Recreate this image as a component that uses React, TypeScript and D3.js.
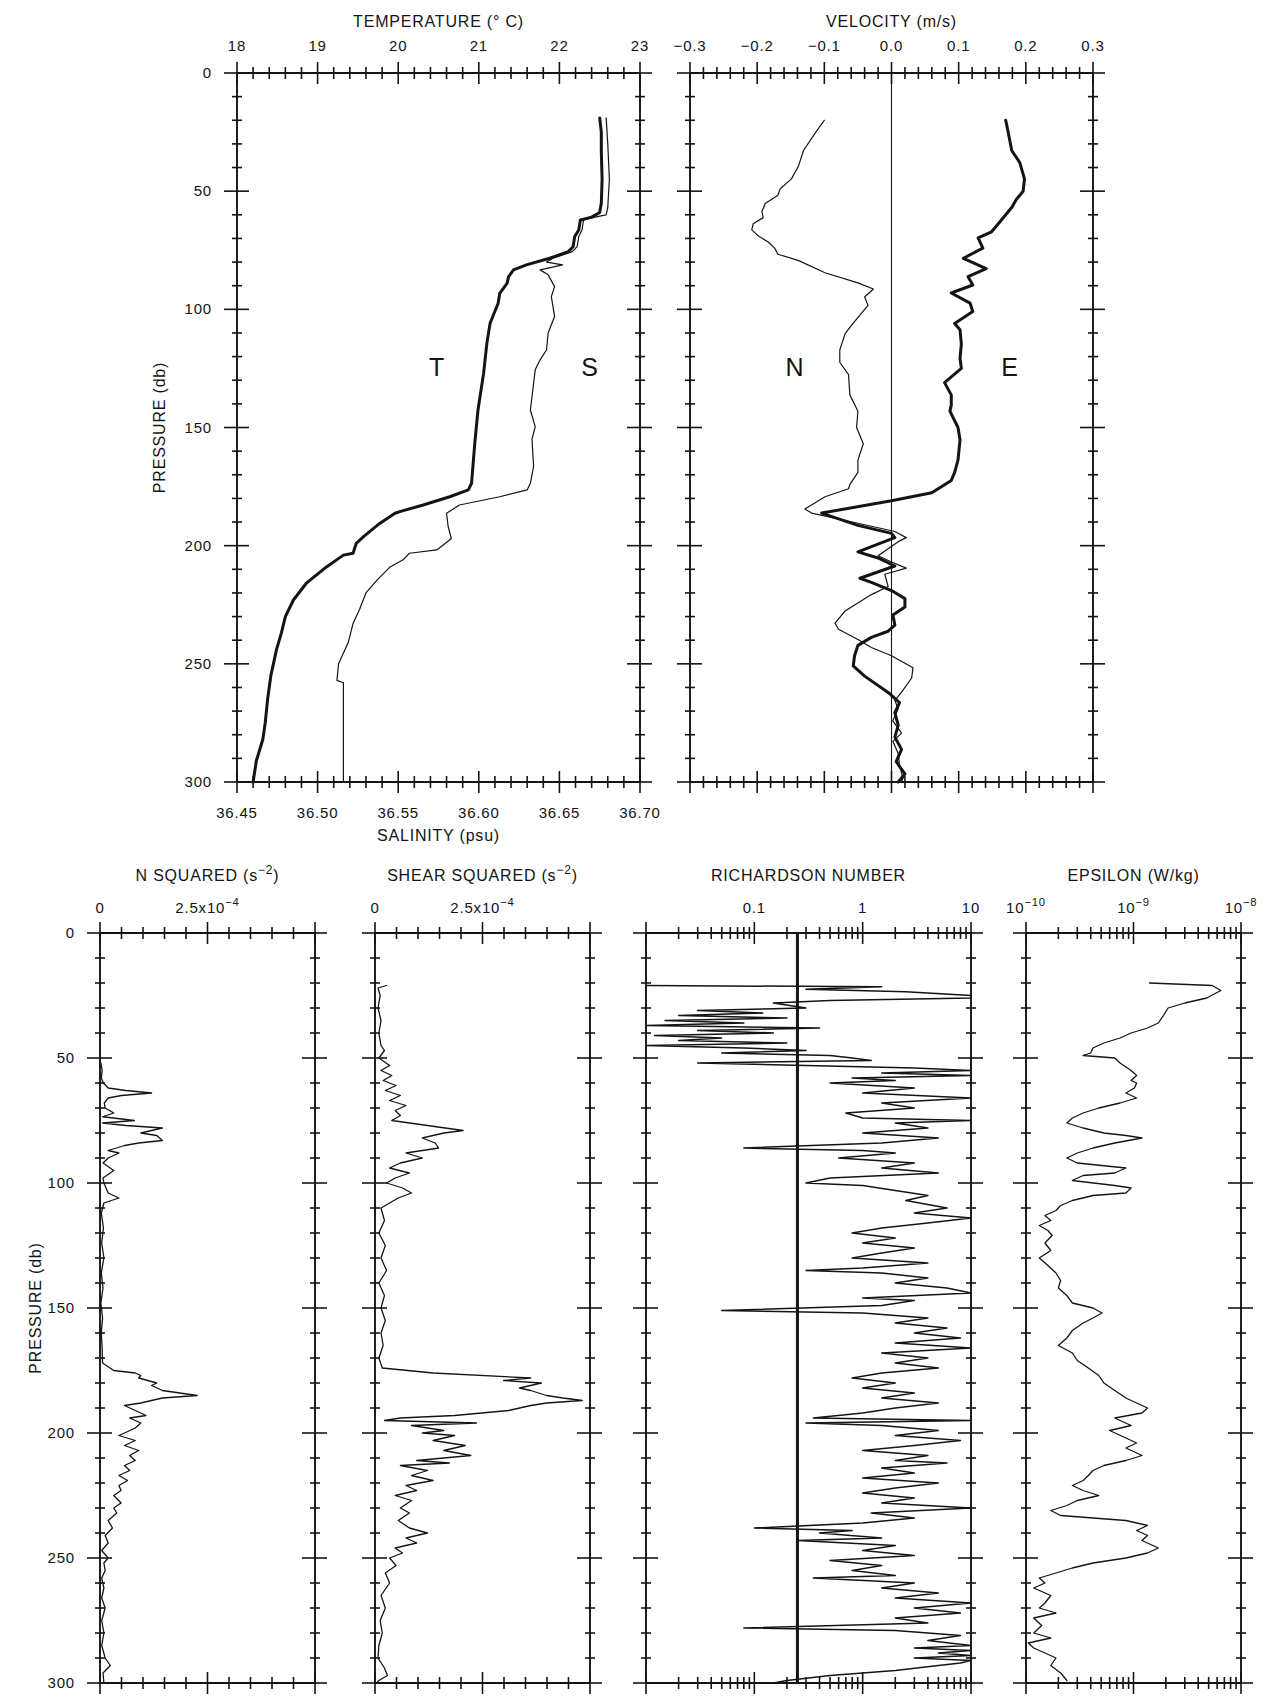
import { useEffect, useRef } from 'react';
import * as d3 from 'd3';

const W = 1273;
const H = 1697;

// [pressure (db), value] pairs
const temperature: [number, number][] = [
  [19, 22.5], [25, 22.52], [33, 22.52], [45, 22.53], [55, 22.52], [59, 22.5], [61, 22.4], [62.2, 22.26],
  [66.4, 22.24], [69.2, 22.19], [73.5, 22.17], [75.6, 22.11], [78.4, 21.88], [81.2, 21.59], [83.3, 21.43],
  [86.2, 21.37], [89, 21.35], [93.2, 21.26], [97.4, 21.24], [105.9, 21.14], [114.4, 21.1], [127, 21.06],
  [142.6, 20.99], [156.7, 20.95], [173.6, 20.91], [176.4, 20.87], [179.3, 20.64], [182.8, 20.31],
  [185.6, 20.02], [186.3, 19.96], [190.6, 19.77], [196.2, 19.57], [199, 19.48], [203.2, 19.44], [204, 19.32],
  [209, 19.11], [214.5, 18.91], [215.9, 18.86], [223, 18.7], [230, 18.6], [237, 18.55], [244, 18.49],
  [255, 18.42], [265, 18.38], [275, 18.35], [282, 18.32], [291, 18.24], [300, 18.2],
];

const salinity: [number, number][] = [
  [19, 36.679], [30, 36.68], [45, 36.681], [57, 36.68], [60, 36.679], [61, 36.672], [62.2, 36.665],
  [66.4, 36.664], [69.2, 36.662], [73.5, 36.661], [75.6, 36.658], [78.4, 36.646], [80, 36.642],
  [81.2, 36.652], [83.3, 36.638], [85.4, 36.643], [90.4, 36.647], [94.6, 36.645], [103, 36.647],
  [110, 36.643], [117.2, 36.642], [121.4, 36.638], [125.6, 36.635], [131.3, 36.634], [142.6, 36.632],
  [149.6, 36.635], [155, 36.633], [166.5, 36.634], [173.6, 36.632], [176.4, 36.63], [179.3, 36.613],
  [182.8, 36.588], [186.3, 36.58], [192, 36.581], [197, 36.583], [201.8, 36.574], [203.2, 36.557],
  [206, 36.553], [209, 36.545], [211.7, 36.541], [214.5, 36.537], [220, 36.53], [227, 36.526],
  [232.9, 36.522], [241, 36.519], [250, 36.513], [257, 36.512], [258, 36.516], [270, 36.516],
  [285, 36.516], [300, 36.516],
];

const northVel: [number, number][] = [
  [20, -0.1], [26, -0.115], [32.8, -0.131], [39.7, -0.139], [44.8, -0.149], [49.1, -0.166], [51.7, -0.169],
  [55.2, -0.188], [58.6, -0.193], [61.2, -0.191], [63.8, -0.206], [66.4, -0.208], [69, -0.198],
  [71.6, -0.183], [74.1, -0.174], [76.7, -0.169], [79.3, -0.139], [84.5, -0.099], [88.8, -0.05],
  [91.4, -0.027], [94.8, -0.04], [98.3, -0.035], [106.9, -0.06], [110.3, -0.069], [117.2, -0.077],
  [122.4, -0.077], [127.6, -0.064], [136.2, -0.062], [143.1, -0.05], [150, -0.052], [156.9, -0.042],
  [163.8, -0.05], [169, -0.05], [174.1, -0.062], [175.9, -0.064], [179.3, -0.099], [184.5, -0.129],
  [186.2, -0.119], [190.5, -0.05], [194, 0.005], [196.6, 0.022], [198.3, 0.01], [204.3, -0.02],
  [206.9, 0], [209.5, 0.022], [212.1, -0.01], [217.3, -0.005], [220.7, -0.03], [227.6, -0.069],
  [232.8, -0.084], [235.4, -0.079], [239.7, -0.05], [243.1, -0.03], [246.6, 0], [251.7, 0.032],
  [256, 0.03], [262, 0.015], [265.5, 0.005], [269, 0.01], [274.1, 0.002], [279.3, 0.015], [282.8, 0.002],
  [287.9, 0.01], [293.1, 0.012], [298.3, 0.017], [300, 0.015],
];

const eastVel: [number, number][] = [
  [20, 0.17], [24, 0.173], [32.8, 0.179], [37.9, 0.191], [44.8, 0.198], [50, 0.196], [53.4, 0.186],
  [56.9, 0.179], [58.6, 0.174], [63.8, 0.159], [67.2, 0.149], [69.8, 0.129], [74.1, 0.136], [78.4, 0.107],
  [82.8, 0.141], [86.2, 0.114], [89.7, 0.121], [93.1, 0.089], [97.4, 0.117], [100.9, 0.121], [106, 0.094],
  [108.6, 0.102], [114.7, 0.104], [120.7, 0.102], [125, 0.104], [131, 0.079], [136.2, 0.089],
  [140.5, 0.089], [143.1, 0.087], [150, 0.099], [155.2, 0.102], [163.8, 0.099], [169, 0.094],
  [172.4, 0.089], [177.6, 0.06], [181, 0], [186.2, -0.104], [191.4, -0.05], [194.8, 0], [196.6, 0.005],
  [202.6, -0.05], [205.2, -0.02], [208.6, 0.005], [213.8, -0.047], [215.5, -0.03], [219, 0], [222.4, 0.02],
  [225.9, 0.02], [229.3, 0.002], [233.6, 0.005], [236.2, -0.005], [238.8, -0.03], [242.2, -0.05],
  [246.6, -0.055], [250.9, -0.057], [255.2, -0.04], [262.1, -0.005], [266.4, 0.012], [270.7, 0.005],
  [275.9, 0.01], [281, 0.005], [286.2, 0.015], [291.4, 0.007], [296.6, 0.02], [300, 0.01],
];

const nSquared: [number, number][] = [
  [52, 0.02e-4], [55, 0.05e-4], [58, 0.03e-4], [60, 0.08e-4], [62, 0.19e-4], [63, 0.6e-4], [64, 1.2e-4],
  [65, 0.5e-4], [66, 0.19e-4], [68, 0.1e-4], [70, 0.12e-4], [72, 0.32e-4], [73.5, 0.06e-4], [75, 0.8e-4],
  [76, 0.06e-4], [77, 0.6e-4], [78, 1.45e-4], [79, 1.2e-4], [80, 0.95e-4], [81, 1.32e-4], [83, 1.45e-4],
  [84, 0.9e-4], [85, 0.57e-4], [87, 0.19e-4], [88, 0.44e-4], [90, 0.19e-4], [92, 0.07e-4], [95, 0.32e-4],
  [98, 0.07e-4], [100, 0.09e-4], [104, 0.19e-4], [106, 0.44e-4], [108, 0.09e-4], [112, 0.03e-4],
  [118, 0.08e-4], [124, 0.04e-4], [130, 0.09e-4], [136, 0.03e-4], [142, 0.07e-4], [148, 0.02e-4],
  [154, 0.06e-4], [160, 0.03e-4], [166, 0.05e-4], [172, 0.06e-4], [175, 0.32e-4], [176, 0.82e-4],
  [177, 0.95e-4], [178, 0.9e-4], [180, 1.32e-4], [181, 1.2e-4], [183, 1.45e-4], [185, 2.26e-4],
  [186, 1.45e-4], [188, 0.95e-4], [189, 0.57e-4], [191, 0.82e-4], [193, 1.07e-4], [194, 0.69e-4],
  [196, 0.95e-4], [198, 0.82e-4], [200, 0.57e-4], [201, 0.44e-4], [203, 0.82e-4], [205, 0.57e-4],
  [207, 0.9e-4], [209, 0.69e-4], [211, 0.82e-4], [213, 0.57e-4], [215, 0.69e-4], [217, 0.44e-4],
  [219, 0.64e-4], [221, 0.44e-4], [223, 0.49e-4], [225, 0.32e-4], [228, 0.49e-4], [230, 0.32e-4],
  [232, 0.39e-4], [235, 0.19e-4], [238, 0.29e-4], [241, 0.12e-4], [244, 0.19e-4], [247, 0.04e-4],
  [250, 0.19e-4], [252, 0.09e-4], [255, 0.12e-4], [258, 0.04e-4], [262, 0.09e-4], [266, 0.04e-4],
  [270, 0.12e-4], [275, 0.04e-4], [280, 0.09e-4], [285, 0.04e-4], [290, 0.12e-4], [293, 0.24e-4],
  [296, 0.07e-4], [300, 0.09e-4],
];

const shearSquared: [number, number][] = [
  [21, 0.27e-4], [22, 0.07e-4], [25, 0.12e-4], [30, 0.07e-4], [35, 0.14e-4], [40, 0.09e-4], [45, 0.14e-4],
  [47, 0.22e-4], [50, 0.09e-4], [53, 0.34e-4], [55, 0.14e-4], [57, 0.39e-4], [59, 0.19e-4], [61, 0.49e-4],
  [63, 0.24e-4], [65, 0.59e-4], [67, 0.34e-4], [69, 0.72e-4], [71, 0.47e-4], [73, 0.59e-4], [75, 0.39e-4],
  [77, 1.22e-4], [79, 2.05e-4], [80, 1.6e-4], [82, 1.1e-4], [84, 1.4e-4], [86, 1.48e-4], [88, 0.72e-4],
  [90, 1.1e-4], [92, 0.59e-4], [94, 0.34e-4], [96, 0.8e-4], [98, 0.47e-4], [100, 0.27e-4], [102, 0.64e-4],
  [104, 0.85e-4], [106, 0.54e-4], [108, 0.34e-4], [110, 0.14e-4], [115, 0.22e-4], [120, 0.09e-4],
  [125, 0.24e-4], [130, 0.14e-4], [135, 0.27e-4], [140, 0.09e-4], [145, 0.22e-4], [150, 0.14e-4],
  [155, 0.24e-4], [160, 0.14e-4], [165, 0.19e-4], [170, 0.09e-4], [174, 0.17e-4], [176, 1.35e-4],
  [178, 3.62e-4], [179, 2.99e-4], [180, 3.87e-4], [182, 3.36e-4], [183, 3.62e-4], [185, 3.99e-4],
  [186, 4.37e-4], [187, 4.82e-4], [188, 3.99e-4], [189, 3.62e-4], [191, 3.11e-4], [193, 1.85e-4],
  [194, 0.59e-4], [195, 0.22e-4], [196, 2.36e-4], [197, 0.85e-4], [199, 1.6e-4], [200, 1.1e-4],
  [201, 1.85e-4], [203, 1.35e-4], [205, 2.1e-4], [207, 1.6e-4], [209, 2.23e-4], [211, 0.97e-4],
  [212, 1.73e-4], [213, 0.59e-4], [215, 1.22e-4], [217, 0.85e-4], [219, 1.35e-4], [221, 0.72e-4],
  [223, 0.97e-4], [225, 0.47e-4], [227, 0.85e-4], [230, 0.59e-4], [232, 0.8e-4], [235, 0.54e-4],
  [238, 0.8e-4], [240, 1.22e-4], [242, 0.72e-4], [244, 0.97e-4], [246, 0.47e-4], [248, 0.64e-4],
  [250, 0.34e-4], [253, 0.49e-4], [256, 0.24e-4], [260, 0.34e-4], [265, 0.14e-4], [270, 0.24e-4],
  [275, 0.12e-4], [280, 0.17e-4], [285, 0.09e-4], [290, 0.07e-4], [294, 0.22e-4], [297, 0.29e-4],
  [299, 0.09e-4], [300, 0.04e-4],
];

const richardson: [number, number][] = [
  [21, 0.01], [21.5, 1.5], [22.5, 0.3], [23.5, 2.5], [25, 10], [26, 10], [27, 0.5], [28, 0.15], [30, 0.3],
  [31, 0.03], [32, 0.12], [33, 0.02], [34, 0.2], [35, 0.015], [36, 0.08], [37, 0.01], [38, 0.4], [39, 0.03],
  [40, 0.15], [41, 0.012], [42, 0.05], [43, 0.02], [44, 0.2], [45, 0.01], [46, 0.08], [47, 0.3], [48, 0.05],
  [49, 0.5], [50, 0.8], [51, 1.2], [52, 0.03], [53, 0.3], [54, 3], [55, 10], [56, 1.5], [57, 10], [58, 0.8],
  [59, 2], [60, 0.5], [62, 3], [64, 1], [66, 10], [68, 1.5], [70, 3], [72, 0.7], [74, 1], [75, 10], [76, 2],
  [78, 4], [80, 1], [82, 5], [84, 1.5], [86, 0.08], [87, 1], [88, 2], [90, 0.6], [92, 3], [94, 1.5], [96, 5],
  [98, 0.5], [100, 0.3], [101, 1], [103, 2], [105, 4], [107, 2.5], [110, 6], [112, 3], [114, 10], [116, 4],
  [118, 1.5], [120, 0.8], [122, 2], [124, 1], [126, 3], [128, 1.5], [130, 0.8], [132, 4], [134, 1],
  [135, 0.3], [136, 1.5], [138, 4], [140, 2], [142, 6], [144, 10], [146, 1], [147, 3], [149, 1.5],
  [151, 0.05], [152, 1], [154, 4], [156, 2], [158, 6], [160, 3], [162, 8], [164, 2], [166, 10], [168, 1.5],
  [170, 4], [172, 2], [174, 5], [176, 1.5], [178, 0.8], [180, 2], [182, 1], [184, 3], [186, 1.5], [188, 5],
  [190, 2], [192, 1], [194, 0.35], [195, 10], [196, 0.3], [197, 1.5], [199, 5], [201, 2], [203, 8], [205, 3],
  [207, 1], [209, 4], [211, 2], [212, 6], [214, 1.5], [216, 3], [218, 1], [220, 5], [222, 2], [224, 1],
  [226, 3], [228, 1.5], [230, 10], [232, 1.2], [234, 3], [236, 1], [238, 0.1], [239, 0.8], [240, 0.4],
  [242, 1.5], [243, 0.25], [245, 2], [247, 1], [249, 3], [251, 0.5], [253, 1.5], [255, 0.8], [257, 2],
  [258, 0.35], [260, 3], [262, 1.5], [264, 5], [266, 2], [268, 10], [270, 3], [272, 8], [274, 2], [276, 4],
  [278, 0.08], [279, 2], [281, 8], [283, 4], [285, 10], [286, 3], [287, 10], [288, 5], [289, 10], [290, 3],
  [291, 10], [292, 8], [293, 5], [295, 2], [297, 0.5], [299, 0.2], [300, 0.15],
];

const epsilon: [number, number][] = [
  [20, 1.41e-9], [21, 5.4e-9], [23, 6.5e-9], [26, 4.8e-9], [28, 3.0e-9], [30, 2.1e-9], [33, 1.9e-9],
  [36, 1.7e-9], [38, 1.35e-9], [40, 9.5e-10], [42, 7.5e-10], [44, 5.3e-10], [46, 4.2e-10], [48, 4.0e-10],
  [49, 3.4e-10], [50, 6.7e-10], [52, 7.5e-10], [55, 9.5e-10], [57, 1.07e-9], [59, 9.5e-10], [60, 1.07e-9],
  [62, 1.02e-9], [64, 8.5e-10], [66, 1.07e-9], [68, 7.5e-10], [70, 4.75e-10], [72, 3.4e-10], [74, 2.7e-10],
  [76, 2.4e-10], [78, 3.4e-10], [80, 5.3e-10], [81, 8.5e-10], [82, 1.2e-9], [84, 6.7e-10], [86, 4.2e-10],
  [88, 3.0e-10], [90, 2.4e-10], [92, 3.0e-10], [94, 8.5e-10], [96, 6.7e-10], [97, 3.4e-10], [99, 2.7e-10],
  [101, 6.7e-10], [102, 9.5e-10], [104, 8.5e-10], [105, 4.2e-10], [107, 2.7e-10], [109, 2.1e-10],
  [111, 1.9e-10], [113, 1.5e-10], [115, 1.7e-10], [117, 1.33e-10], [119, 1.6e-10], [121, 1.75e-10],
  [124, 1.5e-10], [127, 1.7e-10], [130, 1.33e-10], [133, 1.6e-10], [136, 1.9e-10], [139, 2.1e-10],
  [142, 2.0e-10], [145, 2.4e-10], [148, 2.7e-10], [150, 4.2e-10], [152, 5.1e-10], [154, 4.2e-10],
  [156, 3.4e-10], [159, 2.7e-10], [162, 2.4e-10], [165, 2.0e-10], [168, 2.7e-10], [171, 3.0e-10],
  [174, 3.8e-10], [177, 4.75e-10], [180, 5.3e-10], [183, 6.7e-10], [186, 8.5e-10], [188, 1.07e-9],
  [190, 1.35e-9], [192, 1.2e-9], [194, 6.7e-10], [197, 9.5e-10], [199, 6.0e-10], [202, 8.5e-10],
  [204, 1.07e-9], [206, 8.5e-10], [209, 1.2e-9], [211, 8.5e-10], [213, 5.3e-10], [215, 4.2e-10],
  [217, 3.8e-10], [219, 3.4e-10], [221, 2.7e-10], [223, 3.4e-10], [225, 4.75e-10], [227, 3.0e-10],
  [229, 2.4e-10], [231, 1.7e-10], [233, 2.1e-10], [235, 8.5e-10], [237, 1.35e-9], [239, 1.07e-9],
  [241, 1.35e-9], [243, 1.2e-9], [246, 1.7e-9], [248, 1.35e-9], [250, 8.5e-10], [252, 4.2e-10],
  [254, 2.7e-10], [256, 1.9e-10], [258, 1.33e-10], [260, 1.5e-10], [262, 1.18e-10], [265, 1.7e-10],
  [268, 1.5e-10], [270, 1.33e-10], [272, 1.9e-10], [274, 1.18e-10], [277, 1.4e-10], [280, 1.18e-10],
  [282, 1.7e-10], [284, 1.05e-10], [286, 1.18e-10], [288, 1.5e-10], [290, 1.9e-10], [293, 1.7e-10],
  [296, 2.1e-10], [299, 2.4e-10],
];

const pressureLabels = [0, 50, 100, 150, 200, 250, 300];
const tempLabels = [18, 19, 20, 21, 22, 23];
const salLabels = ['36.45', '36.50', '36.55', '36.60', '36.65', '36.70'];
const velLabels = ['\u22120.3', '\u22120.2', '\u22120.1', '0.0', '0.1', '0.2', '0.3'];
const riLabels = ['0.1', '1', '10'];

const FONT = '"Liberation Sans", Arial, sans-serif';
const INK = '#141414';

type G = d3.Selection<SVGGElement, unknown, null, undefined>;
type Tick = { x: number; major: boolean };

function vAxis(g: G, x: number, y: d3.ScaleLinear<number, number>) {
  g.append('line').attr('x1', x).attr('x2', x).attr('y1', y(0)).attr('y2', y(300))
    .attr('stroke', INK).attr('stroke-width', 1.9);
  d3.range(0, 301, 10).forEach(p => {
    const m = p % 50 === 0;
    g.append('line').attr('x1', x - (m ? 13 : 5)).attr('x2', x + (m ? 12 : 5))
      .attr('y1', y(p)).attr('y2', y(p)).attr('stroke', INK).attr('stroke-width', 1.6);
  });
}

function hAxis(g: G, yy: number, x0: number, x1: number, ticks: Tick[]) {
  g.append('line').attr('x1', x0).attr('x2', x1).attr('y1', yy).attr('y2', yy)
    .attr('stroke', INK).attr('stroke-width', 1.9);
  ticks.forEach(t => {
    const len = t.major ? 11 : 6;
    g.append('line').attr('x1', t.x).attr('x2', t.x).attr('y1', yy - len).attr('y2', yy + len)
      .attr('stroke', INK).attr('stroke-width', 1.6);
  });
}

function linTicks(sx: d3.ScaleLinear<number, number>, lo: number, hi: number, step: number, every: number): Tick[] {
  const n = Math.round((hi - lo) / step);
  return d3.range(0, n + 1).map(i => ({ x: sx(lo + i * step), major: i % every === 0 }));
}

function logTicks(sx: d3.ScaleLogarithmic<number, number>, decades: number[]): Tick[] {
  const out: Tick[] = [];
  decades.forEach((d, i) => {
    const last = i === decades.length - 1;
    (last ? [1] : d3.range(1, 10)).forEach(k => out.push({ x: sx(d * k), major: k === 1 }));
  });
  return out;
}

function label(g: G, x: number, y: number, txt: string, size = 15, anchor = 'middle') {
  return g.append('text').attr('x', x).attr('y', y).attr('text-anchor', anchor)
    .attr('font-family', FONT).attr('font-size', size).attr('fill', INK)
    .attr('letter-spacing', 0.8).text(txt);
}

function supLabel(g: G, x: number, y: number, base: string, sup: string, tail = '', size = 15) {
  const t = g.append('text').attr('x', x).attr('y', y).attr('text-anchor', 'middle')
    .attr('font-family', FONT).attr('font-size', size).attr('fill', INK).attr('letter-spacing', 0.8);
  t.append('tspan').text(base);
  t.append('tspan').attr('dy', -7).attr('font-size', size * 0.75).text(sup);
  if (tail) t.append('tspan').attr('dy', 7).text(tail);
  return t;
}

function profile(g: G, data: [number, number][], sx: (v: number) => number,
  y: d3.ScaleLinear<number, number>, width: number) {
  const line = d3.line<[number, number]>().x(d => sx(d[1])).y(d => y(d[0]));
  g.append('path').datum(data).attr('d', line).attr('fill', 'none').attr('stroke', INK)
    .attr('stroke-width', width).attr('stroke-linejoin', 'round').attr('stroke-linecap', 'round');
}

export default function App() {
  const svgRef = useRef<SVGSVGElement>(null);

  useEffect(() => {
    if (!svgRef.current) return;
    const svg = d3.select(svgRef.current);
    svg.selectAll('*').remove();
    svg.append('rect').attr('width', W).attr('height', H).attr('fill', '#fff');
    const g = svg.append('g') as unknown as G;

    // ---------- top row ----------
    const yTop = d3.scaleLinear().domain([0, 300]).range([73, 782]);
    const xT = d3.scaleLinear().domain([18, 23]).range([237, 640]);
    const xS = d3.scaleLinear().domain([36.45, 36.7]).range([237, 640]);
    const xV = d3.scaleLinear().domain([-0.3, 0.3]).range([690, 1093]);

    vAxis(g, 237, yTop);
    vAxis(g, 640, yTop);
    hAxis(g, yTop(0), 237, 640, linTicks(xT, 18, 23, 0.2, 5));
    hAxis(g, yTop(300), 237, 640, linTicks(xS, 36.45, 36.7, 0.01, 5));

    vAxis(g, 690, yTop);
    vAxis(g, 1093, yTop);
    hAxis(g, yTop(0), 690, 1093, linTicks(xV, -0.3, 0.3, 0.02, 5));
    hAxis(g, yTop(300), 690, 1093, linTicks(xV, -0.3, 0.3, 0.02, 5));
    g.append('line').attr('x1', xV(0)).attr('x2', xV(0)).attr('y1', yTop(0)).attr('y2', yTop(300))
      .attr('stroke', INK).attr('stroke-width', 1.1);

    profile(g, salinity, xS, yTop, 1.2);
    profile(g, temperature, xT, yTop, 3);
    profile(g, northVel, xV, yTop, 1.2);
    profile(g, eastVel, xV, yTop, 3);

    label(g, xT(20.5), 27, 'TEMPERATURE  (\u00b0 C)', 16);
    tempLabels.forEach(t => label(g, xT(t), 51, String(t)));
    salLabels.forEach(s => label(g, xS(+s), 818, s));
    label(g, xS(36.575), 841, 'SALINITY  (psu)', 16);
    label(g, xV(0), 27, 'VELOCITY  (m/s)', 16);
    velLabels.forEach((s, i) => label(g, xV(-0.3 + i * 0.1), 51, s));
    pressureLabels.forEach(p => label(g, 212, yTop(p) + 5, String(p), 15, 'end'));
    label(g, 0, 0, 'PRESSURE  (db)', 16).attr('transform', `translate(165,${yTop(150)}) rotate(-90)`);

    label(g, 437, 376, 'T', 25);
    label(g, 590, 376, 'S', 25);
    label(g, 795, 376, 'N', 25);
    label(g, 1010, 376, 'E', 25);

    // ---------- bottom row ----------
    const yBot = d3.scaleLinear().domain([0, 300]).range([933, 1683]);
    const xN2 = d3.scaleLinear().domain([0, 5e-4]).range([100, 315]);
    const xSh = d3.scaleLinear().domain([0, 5e-4]).range([375, 590]);
    const xRi = d3.scaleLog().domain([0.01, 10]).range([646, 971]).clamp(true);
    const xEps = d3.scaleLog().domain([1e-10, 1e-8]).range([1026, 1241]).clamp(true);

    const panels: [number, number, Tick[]][] = [
      [100, 315, linTicks(xN2, 0, 5e-4, 0.5e-4, 5)],
      [375, 590, linTicks(xSh, 0, 5e-4, 0.5e-4, 5)],
      [646, 971, logTicks(xRi, [0.01, 0.1, 1, 10])],
      [1026, 1241, logTicks(xEps, [1e-10, 1e-9, 1e-8])],
    ];
    panels.forEach(([a, b, ticks]) => {
      vAxis(g, a, yBot);
      vAxis(g, b, yBot);
      hAxis(g, yBot(0), a, b, ticks);
      hAxis(g, yBot(300), a, b, ticks);
    });

    g.append('line').attr('x1', xRi(0.25)).attr('x2', xRi(0.25)).attr('y1', yBot(0)).attr('y2', yBot(300))
      .attr('stroke', INK).attr('stroke-width', 3);

    profile(g, nSquared, xN2, yBot, 1.3);
    profile(g, shearSquared, xSh, yBot, 1.3);
    profile(g, richardson, xRi, yBot, 1.5);
    profile(g, epsilon, xEps, yBot, 1.3);

    supLabel(g, xN2(2.5e-4), 881, 'N  SQUARED  (s', '\u22122', ')', 16);
    supLabel(g, xSh(2.5e-4), 881, 'SHEAR  SQUARED  (s', '\u22122', ')', 16);
    label(g, (646 + 971) / 2, 881, 'RICHARDSON  NUMBER', 16);
    label(g, xEps(1e-9), 881, 'EPSILON  (W/kg)', 16);

    label(g, xN2(0), 913, '0');
    supLabel(g, xN2(2.5e-4), 913, '2.5x10', '\u22124');
    label(g, xSh(0), 913, '0');
    supLabel(g, xSh(2.5e-4), 913, '2.5x10', '\u22124');
    riLabels.forEach(s => label(g, xRi(+s), 913, s));
    supLabel(g, xEps(1e-10), 913, '10', '\u221210');
    supLabel(g, xEps(1e-9), 913, '10', '\u22129');
    supLabel(g, xEps(1e-8), 913, '10', '\u22128');

    pressureLabels.forEach(p => label(g, 75, yBot(p) + 5, String(p), 15, 'end'));
    label(g, 0, 0, 'PRESSURE  (db)', 16).attr('transform', `translate(41,${yBot(150)}) rotate(-90)`);
  }, []);

  return <svg ref={svgRef} width={W} height={H} style={{ position: 'absolute', left: 0, top: 0 }} />;
}
